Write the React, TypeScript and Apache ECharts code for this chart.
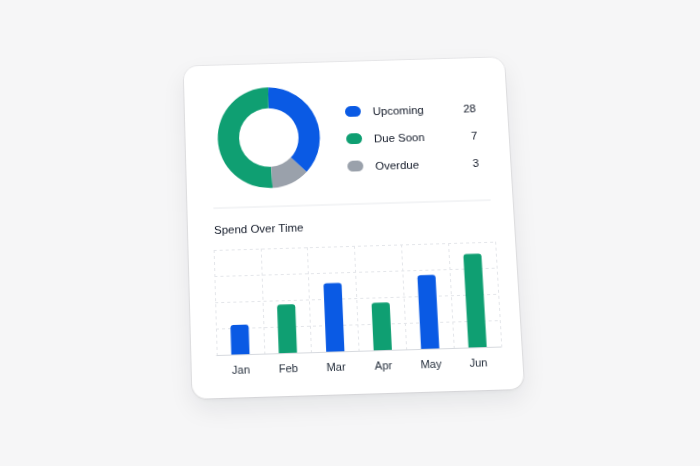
import React, { useEffect, useRef } from 'react';
import * as echarts from 'echarts';

// ---- data ----
const months = ['Jan', 'Feb', 'Mar', 'Apr', 'May', 'Jun'];
const spend = [28, 46, 65, 45, 70, 89];
const statusNames = ['Upcoming', 'Due Soon', 'Overdue'];
const statusCounts = [28, 7, 3];
const donutShares = [37, 51, 12];
const yMax = 100;
const yInterval = 25;

// ---- styles ----
const BLUE = '#0a5ae4';
const GREEN = '#0f9f72';
const GRAY = '#9aa1ab';
const statusColors = [BLUE, GREEN, GRAY];
const barColors = [BLUE, GREEN, BLUE, GREEN, BLUE, GREEN];
const FONT = '"Liberation Sans", Arial, Helvetica, sans-serif';
const PILL = 'path://M5.5,0H10.5A5.5,5.5,0,0,1,10.5,11H5.5A5.5,5.5,0,0,1,5.5,0Z';
const TEXT = '#111827';

export default function App() {
  const ref = useRef<HTMLDivElement>(null);

  useEffect(() => {
    if (!ref.current) return;
    const chart = echarts.init(ref.current, null, { renderer: 'svg' });
    const option = {
      animation: false,
      textStyle: { fontFamily: FONT },
      title: {
        text: 'Spend Over Time',
        left: 26,
        top: 161,
        padding: 0,
        textStyle: { fontSize: 11.5, fontWeight: 500, color: TEXT, fontFamily: FONT, lineHeight: 14 },
      },
      legend: {
        orient: 'vertical',
        left: 162,
        top: 45.6,
        padding: 0,
        itemWidth: 16,
        itemHeight: 11,
        itemGap: 16,
        icon: PILL,
        selectedMode: false,
        data: statusNames,
        formatter: (name: string) => {
          const i = statusNames.indexOf(name);
          return `{g| }{n|${name}}{v|${statusCounts[i]}}`;
        },
        textStyle: {
          fontFamily: FONT,
          rich: {
            g: { width: 7, fontSize: 11.5, lineHeight: 14 },
            n: { width: 80, align: 'left', fontSize: 11.5, lineHeight: 14, color: TEXT, fontFamily: FONT },
            v: { width: 24.5, align: 'right', fontSize: 11.5, lineHeight: 14, color: TEXT, fontFamily: FONT },
          },
        },
      },
      grid: { left: 25, top: 188, width: 281, height: 104, containLabel: false },
      xAxis: {
        type: 'category',
        data: months,
        boundaryGap: true,
        axisLine: { show: true, lineStyle: { color: '#d7dadf', width: 1 } },
        axisTick: { show: false },
        axisLabel: { color: '#1f2937', fontSize: 11, margin: 9, fontFamily: FONT },
        splitLine: { show: true, lineStyle: { color: '#e4e6ea', type: [3, 3], width: 1 } },
      },
      yAxis: {
        type: 'value',
        min: 0,
        max: yMax,
        interval: yInterval,
        axisLine: { show: false },
        axisTick: { show: false },
        axisLabel: { show: false },
        splitLine: { show: true, lineStyle: { color: '#e4e6ea', type: [3, 3], width: 1 } },
      },
      graphic: [
        {
          type: 'line',
          shape: { x1: 26, y1: 146, x2: 304, y2: 146 },
          style: { stroke: '#e8eaed', lineWidth: 1 },
          silent: true,
        },
      ],
      series: [
        {
          type: 'pie',
          name: 'Status',
          center: [84, 75.8],
          radius: [30, 51.5],
          startAngle: -44.5,
          clockwise: false,
          silent: true,
          label: { show: false },
          labelLine: { show: false },
          itemStyle: { borderWidth: 0 },
          data: statusNames.map((n, i) => ({
            name: n,
            value: donutShares[i],
            itemStyle: { color: statusColors[i] },
          })),
        },
        {
          type: 'bar',
          name: 'Spend',
          barWidth: 18,
          silent: true,
          data: spend.map((v, i) => ({
            value: v,
            itemStyle: { color: barColors[i], borderRadius: [3, 3, 0, 0] },
          })),
        },
      ],
    };
    chart.setOption(option as any);
    return () => chart.dispose();
  }, []);

  return (
    <div
      style={{
        position: 'fixed',
        left: 0,
        top: 0,
        width: 700,
        height: 466,
        background: '#f6f6f7',
        overflow: 'hidden',
      }}
    >
      <div
        style={{
          position: 'absolute',
          left: 188,
          top: 57.5,
          width: 326,
          height: 334,
          background: '#ffffff',
          borderRadius: 14,
          boxShadow:
            '0 0 0 1px rgba(17,24,39,0.06), 0 10px 24px rgba(17,24,39,0.08), 0 2px 4px rgba(17,24,39,0.04)',
          transform: 'perspective(1000px) rotateX(6deg) rotate(-1.7deg) skewX(0.8deg)',
          transformOrigin: '50% 50%',
        }}
      >
        <div ref={ref} style={{ width: 326, height: 334 }} />
      </div>
    </div>
  );
}
